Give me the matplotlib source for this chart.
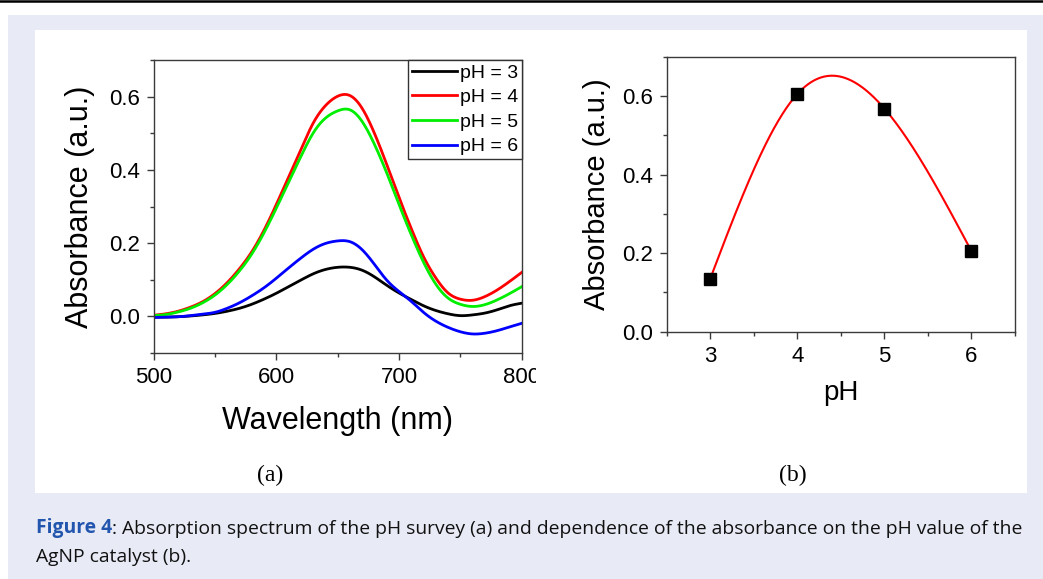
import numpy as np
import matplotlib
matplotlib.use("Agg")
import matplotlib.pyplot as plt
from matplotlib.patches import Rectangle
from matplotlib.lines import Line2D
from matplotlib.ticker import MultipleLocator, FormatStrFormatter

plt.rcParams['font.family'] = ['Liberation Sans', 'DejaVu Sans']

# UV-Vis spectra, every 10 nm
wavelength = np.arange(500, 801, 10)
abs_ph3 = [-0.002, -0.002, -0.001, 0.001, 0.004, 0.008, 0.014, 0.022, 0.033, 0.047,
           0.063, 0.081, 0.099, 0.116, 0.128, 0.134, 0.134, 0.126, 0.108, 0.085,
           0.064, 0.046, 0.029, 0.016, 0.007, 0.002, 0.004, 0.009, 0.018, 0.029, 0.036]
abs_ph4 = [0.003, 0.007, 0.014, 0.025, 0.040, 0.062, 0.092, 0.130, 0.176, 0.235,
           0.305, 0.380, 0.455, 0.527, 0.575, 0.601, 0.603, 0.568, 0.500, 0.415,
           0.325, 0.240, 0.163, 0.105, 0.064, 0.047, 0.044, 0.054, 0.072, 0.095, 0.120]
abs_ph5 = [0.002, 0.005, 0.012, 0.022, 0.037, 0.058, 0.087, 0.124, 0.170, 0.228,
           0.295, 0.366, 0.436, 0.500, 0.541, 0.561, 0.564, 0.532, 0.470, 0.392,
           0.306, 0.223, 0.148, 0.088, 0.050, 0.033, 0.027, 0.032, 0.045, 0.062, 0.081]
abs_ph6 = [-0.003, -0.002, -0.001, 0.002, 0.006, 0.011, 0.022, 0.037, 0.056, 0.078,
           0.104, 0.132, 0.159, 0.183, 0.199, 0.206, 0.204, 0.182, 0.142, 0.099,
           0.068, 0.041, 0.011, -0.013, -0.030, -0.042, -0.048, -0.046, -0.039, -0.029, -0.019]
spectra = [abs_ph3, abs_ph4, abs_ph5, abs_ph6]
spectrum_labels = ['pH = 3', 'pH = 4', 'pH = 5', 'pH = 6']
spectrum_colors = ['#000000', '#ff0000', '#00ee00', '#0000ff']

# peak absorbance vs pH
ph_values = np.array([3, 4, 5, 6])
peak_abs = np.array([0.135, 0.605, 0.568, 0.205])

caption_bold = 'Figure 4'
caption_rest = ': Absorption spectrum of the pH survey (a) and dependence of the absorbance on the pH value of the'
caption_line2 = 'AgNP catalyst (b).'


def natural_spline(x, y, xs):
    x = np.asarray(x, float)
    y = np.asarray(y, float)
    n = len(x)
    h = np.diff(x)
    A = np.zeros((n, n))
    rhs = np.zeros(n)
    A[0, 0] = A[-1, -1] = 1
    for i in range(1, n - 1):
        A[i, i - 1] = h[i - 1]
        A[i, i] = 2 * (h[i - 1] + h[i])
        A[i, i + 1] = h[i]
        rhs[i] = 6 * ((y[i + 1] - y[i]) / h[i] - (y[i] - y[i - 1]) / h[i - 1])
    M = np.linalg.solve(A, rhs)
    k = np.clip(np.searchsorted(x, xs) - 1, 0, n - 2)
    x0, x1, hh = x[k], x[k + 1], x[k + 1] - x[k]
    return (M[k] * (x1 - xs) ** 3 / (6 * hh) + M[k + 1] * (xs - x0) ** 3 / (6 * hh)
            + (y[k] - M[k] * hh ** 2 / 6) * (x1 - xs) / hh
            + (y[k + 1] - M[k + 1] * hh ** 2 / 6) * (xs - x0) / hh)


W, H = 1043, 579
fig = plt.figure(figsize=(W / 100, H / 100), dpi=100)


def px_rect(x0, y0, x1, y1):
    return [x0 / W, 1 - y1 / H, (x1 - x0) / W, (y1 - y0) / H]


# page background
lavender = '#e8ebf6'
fig.patches.append(Rectangle((8 / W, 0), 1 - 8 / W, 1 - 15 / H, transform=fig.transFigure,
                             facecolor=lavender, edgecolor='none', zorder=-10))
fig.patches.append(Rectangle((35 / W, 1 - 493 / H), (1027 - 35) / W, (493 - 30) / H,
                             transform=fig.transFigure, facecolor='white', edgecolor='none', zorder=-9))
fig.add_artist(Line2D([0, 1], [1 - 1 / H, 1 - 1 / H], color='black', lw=1.8))

spine_color = '#3a3a3a'


def style_axes(ax):
    for s in ax.spines.values():
        s.set_color(spine_color)
        s.set_linewidth(1.0)
    ax.tick_params(which='both', direction='out', color=spine_color, width=1.0,
                   top=False, right=False, labelsize=16, pad=5)
    ax.tick_params(which='major', length=5)
    ax.tick_params(which='minor', length=3)


# (a) spectra
ax1 = fig.add_axes(px_rect(153.5, 60, 521.7, 353))
wl_fine = np.linspace(500, 800, 601)
for vals, lab, col in zip(spectra, spectrum_labels, spectrum_colors):
    ax1.plot(wl_fine, natural_spline(wavelength, vals, wl_fine), color=col, lw=2.0, label=lab)
ax1.set_xlim(500, 800)
ax1.set_ylim(-0.1, 0.7)
ax1.xaxis.set_major_locator(MultipleLocator(100))
ax1.xaxis.set_minor_locator(MultipleLocator(50))
ax1.yaxis.set_major_locator(MultipleLocator(0.2))
ax1.yaxis.set_minor_locator(MultipleLocator(0.1))
ax1.yaxis.set_major_formatter(FormatStrFormatter('%.1f'))
style_axes(ax1)
ax1.set_xlabel('Wavelength (nm)', fontsize=22, labelpad=13)
ax1.set_ylabel('Absorbance (a.u.)', fontsize=22, labelpad=10)
leg = ax1.legend(loc='upper right', bbox_to_anchor=(1, 1), borderaxespad=0, fontsize=14,
                 frameon=True, fancybox=False, framealpha=1, edgecolor='#333333',
                 handlelength=2.3, handletextpad=0.15, labelspacing=0.36, borderpad=0.2)
leg.get_frame().set_linewidth(1.0)

# cropped edge of the last tick label
fig.patches.append(Rectangle((536 / W, 1 - 395 / H), 20 / W, 40 / H, transform=fig.transFigure,
                             facecolor='white', edgecolor='none', zorder=5))

# (b) absorbance vs pH
ax2 = fig.add_axes(px_rect(666.7, 56.7, 1015, 331.7))
ph_fine = np.linspace(ph_values[0], ph_values[-1], 300)
ax2.plot(ph_fine, natural_spline(ph_values, peak_abs, ph_fine), color='#ff0000', lw=1.5, zorder=2)
ax2.plot(ph_values, peak_abs, 's', color='black', ms=9, zorder=3)
ax2.set_xlim(2.5, 6.5)
ax2.set_ylim(0, 0.7)
ax2.xaxis.set_major_locator(MultipleLocator(1))
ax2.xaxis.set_minor_locator(MultipleLocator(0.5))
ax2.yaxis.set_major_locator(MultipleLocator(0.2))
ax2.yaxis.set_minor_locator(MultipleLocator(0.1))
ax2.yaxis.set_major_formatter(FormatStrFormatter('%.1f'))
style_axes(ax2)
ax2.set_xlabel('pH', fontsize=20, labelpad=10)
ax2.set_ylabel('Absorbance (a.u.)', fontsize=21, labelpad=8)

# panel letters
fig.text(270 / W, 1 - 475 / H, '(a)', family='Liberation Serif', fontsize=17, ha='center', va='center')
fig.text(793 / W, 1 - 475 / H, '(b)', family='Liberation Serif', fontsize=17, ha='center', va='center')

# caption
cap_font = ['Open Sans', 'DejaVu Sans']
t1 = fig.text(36 / W, 1 - 533 / H, caption_bold, family=cap_font, fontsize=13.9,
              weight='bold', color='#2255ad', va='baseline')
ax1.annotate(caption_rest, xy=(1, 0), xycoords=t1, va='bottom', ha='left',
             family=cap_font, fontsize=13.9, color='#111111', annotation_clip=False)
fig.text(36 / W, 1 - 562 / H, caption_line2, family=cap_font, fontsize=13.9,
         color='#111111', va='baseline')

fig.savefig('out.png', dpi=100)
